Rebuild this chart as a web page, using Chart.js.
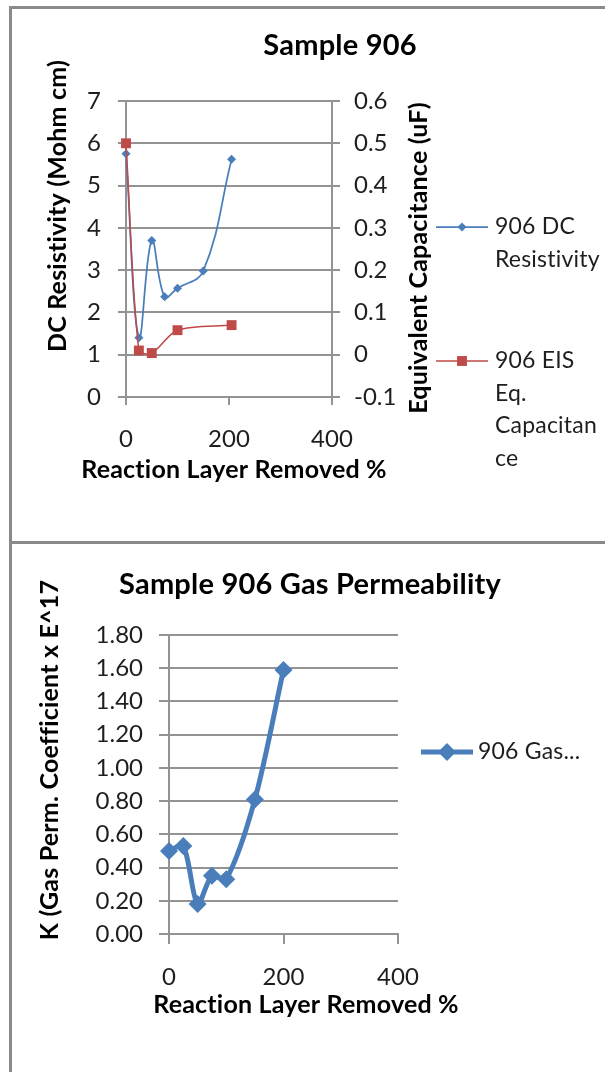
<!DOCTYPE html>
<html><head><meta charset="utf-8">
<script src="https://cdn.jsdelivr.net/npm/chart.js@4"></script>
<style>
html,body{margin:0;padding:0;background:#fff;}
body{width:605px;height:1072px;position:relative;overflow:hidden;}
.frame{position:absolute;border-left:3px solid #8a8a8a;border-top:3px solid #8a8a8a;}
#f1{left:9px;top:6px;width:620px;height:540px;}
#f2{left:9px;top:541px;width:620px;height:560px;}
canvas{position:absolute;left:0;}
#c1{top:0;}
#c2{top:540px;}
</style></head><body>
<div class="frame" id="f1"></div><div class="frame" id="f2"></div>
<canvas id="c1" width="605" height="540"></canvas>
<canvas id="c2" width="605" height="532"></canvas>
<script>
// ---- data ----
const resX = [0, 25, 50, 75, 100, 150, 205];
const resistivity = [5.75, 1.40, 3.70, 2.37, 2.57, 2.98, 5.62];
const capX = [0, 25, 50, 100, 205];
const capacitance = [0.500, 0.010, 0.004, 0.058, 0.070];
const gasX = [0, 25, 50, 75, 100, 150, 200];
const gasK = [0.50, 0.53, 0.18, 0.35, 0.33, 0.81, 1.59];
const xTicks = [0, 200, 400];
const resTicks = [0, 1, 2, 3, 4, 5, 6, 7];
const capTicks = [-0.1, 0, 0.1, 0.2, 0.3, 0.4, 0.5, 0.6];
const gasTicks = [0, 0.2, 0.4, 0.6, 0.8, 1.0, 1.2, 1.4, 1.6, 1.8];

const FONT = 'Lato';
Chart.defaults.font.family = FONT;
const GRID = '#939393';
const TICKCOL = '#1e1e1e';

function wrapText(ctx, text, maxW) {
  const words = text.split(' ');
  const lines = [];
  let cur = '';
  words.forEach(w => {
    const test = cur ? cur + ' ' + w : w;
    if (ctx.measureText(test).width <= maxW) { cur = test; return; }
    if (cur) lines.push(cur);
    cur = '';
    let piece = '';
    for (const ch of w) {
      if (ctx.measureText(piece + ch).width > maxW && piece) { lines.push(piece); piece = ch; }
      else piece += ch;
    }
    cur = piece;
  });
  if (cur) lines.push(cur);
  return lines;
}
function truncText(ctx, text, maxW) {
  if (ctx.measureText(text).width <= maxW) return [text];
  let s = text;
  while (s.length && ctx.measureText(s.trim() + '...').width > maxW) s = s.slice(0, -1);
  return [s.trim() + '...'];
}

const extraText = {
  id: 'extraText',
  afterDraw(chart, args, opts) {
    const ctx = chart.ctx;
    (opts.items || []).forEach(it => {
      ctx.save();
      ctx.font = it.font;
      if ('letterSpacing' in ctx) ctx.letterSpacing = '0.2px';
      ctx.fillStyle = it.color || '#000';
      ctx.textAlign = 'center';
      ctx.textBaseline = 'middle';
      ctx.translate(it.x, it.y);
      if (it.rotate) ctx.rotate(it.rotate);
      ctx.fillText(it.text, 0, 0);
      ctx.restore();
    });
    (opts.legend || []).forEach(lg => {
      const ds = chart.data.datasets[lg.index];
      ctx.save();
      ctx.strokeStyle = ds.borderColor;
      ctx.lineWidth = lg.lineWidth;
      ctx.beginPath();
      ctx.moveTo(lg.x1, lg.y); ctx.lineTo(lg.x2, lg.y);
      ctx.stroke();
      ctx.fillStyle = ds.backgroundColor;
      ctx.strokeStyle = ds.borderColor;
      Chart.helpers.drawPoint(ctx, {pointStyle: ds.pointStyle, radius: ds.pointRadius, rotation: 0, borderWidth: 0}, (lg.x1 + lg.x2) / 2, lg.y);
      ctx.font = lg.font;
      if ('letterSpacing' in ctx) ctx.letterSpacing = '0.2px';
      ctx.fillStyle = '#1e1e1e';
      ctx.textAlign = 'left';
      ctx.textBaseline = 'middle';
      const lines = lg.truncate ? truncText(ctx, ds.label, lg.maxW) : wrapText(ctx, ds.label, lg.maxW);
      lines.forEach((l, i) => ctx.fillText(l, lg.tx, lg.y + i * lg.lh));
      ctx.restore();
    });
  }
};

function tickFont(size) { return {family: FONT, size: size}; }

// ---- chart 1 ----
new Chart(document.getElementById('c1'), {
  type: 'line',
  data: {
    datasets: [
      {
        label: '906 DC Resistivity',
        data: resX.map((x, i) => ({x: x, y: resistivity[i]})),
        yAxisID: 'y',
        borderColor: '#4A7EBB', backgroundColor: '#4A7EBB',
        borderWidth: 1.75, pointStyle: 'rectRot', pointRadius: 4.5, pointBorderWidth: 0,
        tension: 0.4, clip: false, order: 1
      },
      {
        label: '906 EIS Eq. Capacitance',
        data: capX.map((x, i) => ({x: x, y: capacitance[i]})),
        yAxisID: 'y1',
        borderColor: '#BE4B48', backgroundColor: '#BE4B48',
        borderWidth: 1.5, pointStyle: 'rect', pointRadius: 7, pointBorderWidth: 0,
        tension: 0.3, clip: false, order: 0
      }
    ]
  },
  options: {
    responsive: false, animation: false, events: [],
    layout: {padding: {top: 101, left: 0, right: 0, bottom: 0}},
    plugins: {
      legend: {display: false}, title: {display: false}, tooltip: {enabled: false},
      extraText: {
        items: [
          {text: 'Sample 906', x: 340, y: 46, font: 'bold 29px ' + FONT},
          {text: 'Reaction Layer Removed %', x: 234, y: 470, font: 'bold 25px ' + FONT},
          {text: 'DC Resistivity (Mohm cm)', x: 58, y: 206, rotate: -Math.PI / 2, font: 'bold 25px ' + FONT},
          {text: 'Equivalent Capacitance (uF)', x: 419, y: 258, rotate: -Math.PI / 2, font: 'bold 25px ' + FONT}
        ],
        legend: [
          {index: 0, x1: 436, x2: 488, y: 227, tx: 495, lh: 32.5, maxW: 108, lineWidth: 1.75, font: '23px ' + FONT},
          {index: 1, x1: 436, x2: 488, y: 361, tx: 495, lh: 32.5, maxW: 108, lineWidth: 1.5, font: '23px ' + FONT}
        ]
      }
    },
    scales: {
      x: {
        type: 'linear', min: 0, max: 400,
        afterBuildTicks: s => { s.ticks = xTicks.map(v => ({value: v})); },
        ticks: {font: tickFont(24), color: TICKCOL, padding: 20, maxRotation: 0},
        grid: {drawOnChartArea: false, drawTicks: true, tickLength: 8, color: GRID, lineWidth: 2},
        border: {display: true, color: GRID, width: 2},
        afterFit: s => { s.height = 143; }
      },
      y: {
        type: 'linear', position: 'left', min: 0, max: 7,
        afterBuildTicks: s => { s.ticks = resTicks.map(v => ({value: v})); },
        ticks: {font: tickFont(24), color: TICKCOL, padding: 17},
        grid: {drawOnChartArea: true, tickLength: 8, color: GRID, lineWidth: 2},
        border: {display: true, color: GRID, width: 2},
        afterFit: s => { s.width = 126; }
      },
      y1: {
        type: 'linear', position: 'right', min: -0.1, max: 0.6,
        afterBuildTicks: s => { s.ticks = capTicks.map(v => ({value: v})); },
        ticks: {font: tickFont(24), color: TICKCOL, padding: 14, callback: v => String(Math.round(v * 10) / 10)},
        grid: {drawOnChartArea: false, tickLength: 8, color: GRID, lineWidth: 2},
        border: {display: true, color: GRID, width: 2},
        afterFit: s => { s.width = 273; }
      }
    }
  },
  plugins: [extraText]
});

// ---- chart 2 ----
new Chart(document.getElementById('c2'), {
  type: 'line',
  data: {
    datasets: [
      {
        label: '906 Gas Permeability',
        data: gasX.map((x, i) => ({x: x, y: gasK[i]})),
        borderColor: '#4A7EBB', backgroundColor: '#4A7EBB',
        borderWidth: 5, pointStyle: 'rectRot', pointRadius: 9, pointBorderWidth: 0,
        tension: 0.3, clip: false
      }
    ]
  },
  options: {
    responsive: false, animation: false, events: [],
    layout: {padding: {top: 95, left: 0, right: 207, bottom: 0}},
    plugins: {
      legend: {display: false}, title: {display: false}, tooltip: {enabled: false},
      extraText: {
        items: [
          {text: 'Sample 906 Gas Permeability', x: 310, y: 45, font: 'bold 29px ' + FONT},
          {text: 'Reaction Layer Removed %', x: 306, y: 465, font: 'bold 25px ' + FONT},
          {text: 'K (Gas Perm. Coefficient x E^17', x: 50, y: 220, rotate: -Math.PI / 2, font: 'bold 25px ' + FONT}
        ],
        legend: [
          {index: 0, x1: 421, x2: 473, y: 212, tx: 478, lh: 32, maxW: 112, lineWidth: 5, font: '23px ' + FONT, truncate: true}
        ]
      }
    },
    scales: {
      x: {
        type: 'linear', min: 0, max: 400,
        afterBuildTicks: s => { s.ticks = xTicks.map(v => ({value: v})); },
        ticks: {font: tickFont(24), color: TICKCOL, padding: 19, maxRotation: 0},
        grid: {drawOnChartArea: false, drawTicks: true, tickLength: 10, color: GRID, lineWidth: 2},
        border: {display: true, color: GRID, width: 2},
        afterFit: s => { s.height = 138; }
      },
      y: {
        type: 'linear', position: 'left', min: 0, max: 1.8,
        afterBuildTicks: s => { s.ticks = gasTicks.map(v => ({value: v})); },
        ticks: {font: tickFont(24), color: TICKCOL, padding: 16, callback: v => Number(v).toFixed(2)},
        grid: {drawOnChartArea: true, tickLength: 10, color: GRID, lineWidth: 2},
        border: {display: true, color: GRID, width: 2},
        afterFit: s => { s.width = 169; }
      }
    }
  },
  plugins: [extraText]
});
</script>
</body></html>
